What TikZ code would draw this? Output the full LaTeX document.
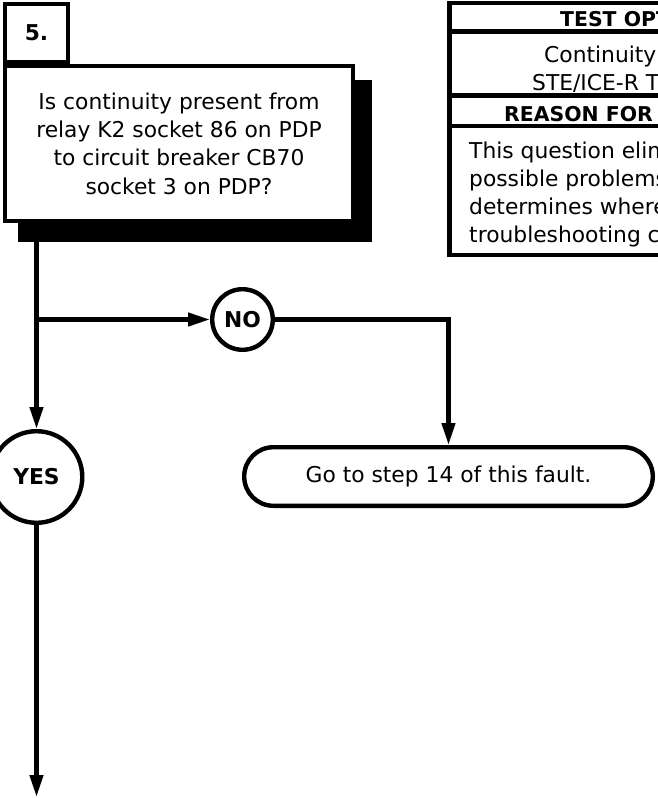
\documentclass[tikz,border=0pt]{standalone}
\usepackage{fontspec}
\setmainfont{DejaVu Sans}
\usetikzlibrary{arrows.meta}

\begin{document}
\begin{tikzpicture}[x=0.5pt,y=-0.5pt,line width=2.2pt,
  font=\fontsize{10.9}{14.2}\selectfont,
  arr/.style={-{Triangle[length=11pt,width=6.5pt]}},
  answer/.style={draw,circle,inner sep=0pt,font=\fontsize{10.9}{14.2}\selectfont\bfseries},
  tabtext/.style={anchor=base west,inner sep=0pt},
  tabhead/.style={tabtext,font=\fontsize{10.2}{14.2}\selectfont\bfseries}]
\path[use as bounding box,clip] (0,0) rectangle (658,798);

  \fill (18,80) rectangle (372,242);
  \node[draw,fill=white,minimum width=173.8pt,minimum height=77.3pt,align=center] (q) at (179,143.5)
    {Is continuity present from\\relay K2 socket 86 on PDP\\to circuit breaker CB70\\socket 3 on PDP?};
  \node[draw,fill=white,minimum width=31.3pt,minimum height=28.8pt,font=\fontsize{10.9}{14.2}\selectfont\bfseries] (step) at (36.5,33) {5.};

  \coordinate (qout) at (36.5,242);
  \coordinate (split) at (36.5,319.5);
  \coordinate (bottom) at (36.5,797);

  \node[answer,minimum size=45.8pt] (yes) at (36.5,477) {YES};
  \node[answer,minimum size=30.3pt] (no) at (242.5,319.5) {NO};
  \node[draw,rounded corners=14.6pt,minimum width=204.3pt,minimum height=29.3pt] (goto) at (448.5,476.5)
    {Go to step 14 of this fault.};

  \draw (qout) -- (split);
  \draw[arr] (split) -- (yes);
  \draw[arr] (split) -- (no);
  \draw[arr] (no) -| (goto);
  \draw[arr] (yes) -- (bottom);

  \draw (449.5,3) rectangle (700,255);
  \draw (449.5,31.5) -- (700,31.5);
  \draw (449.5,95.5) -- (700,95.5);
  \draw (449.5,126) -- (700,126);
  \node[tabhead] (toptHead) at (558,26) {TEST OPT};
  \node[tabtext] (toptA) at (542,62) {Continuity};
  \node[tabtext] (toptB) at (530,90) {STE/ICE-R T};
  \node[tabhead] (reasonHead) at (502,121) {REASON FOR};
  \node[tabtext] (reasonA) at (467,158) {This question elim};
  \node[tabtext] (reasonB) at (467,186) {possible problems};
  \node[tabtext] (reasonC) at (467,214) {determines where};
  \node[tabtext] (reasonD) at (467,242) {troubleshooting co};
\end{tikzpicture}
\end{document}
